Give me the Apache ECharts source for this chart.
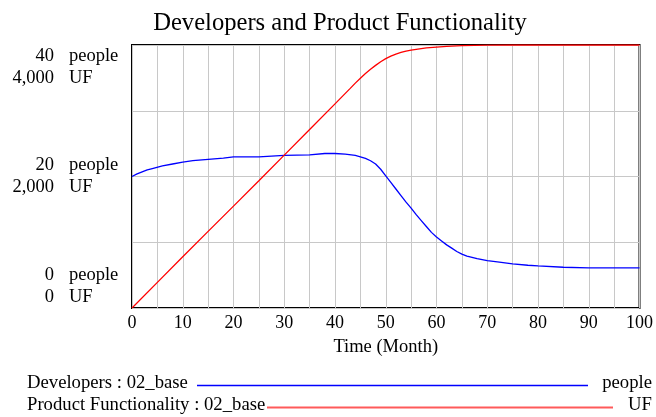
<!DOCTYPE html>
<html>
<head>
<meta charset="utf-8">
<script src="https://cdn.jsdelivr.net/npm/echarts@6/dist/echarts.min.js"></script>
<style>html,body{margin:0;padding:0;background:#fff;}#c{width:656px;height:417px;}</style>
</head>
<body>
<div id="c"></div>
<script>
var devMonths = [0, 1, 2, 3, 4, 6, 8, 10, 12, 15, 18, 20, 25, 30, 35, 38, 40, 42, 44, 45, 46, 47, 48, 49, 50, 51, 52, 53, 54, 55, 56, 57, 58, 59, 60, 61, 62, 63, 64, 65, 66, 68, 70, 72, 75, 78, 80, 85, 90, 100];
var developers = [20.0, 20.4, 20.7, 21.0, 21.2, 21.6, 21.9, 22.2, 22.4, 22.6, 22.8, 23.0, 23.0, 23.2, 23.3, 23.5, 23.5, 23.4, 23.2, 23.0, 22.75, 22.4, 21.9, 21.1, 20.1, 19.1, 18.1, 17.1, 16.1, 15.2, 14.2, 13.3, 12.4, 11.5, 10.8, 10.2, 9.6, 9.1, 8.6, 8.2, 7.9, 7.5, 7.2, 7.0, 6.7, 6.5, 6.4, 6.2, 6.1, 6.1];
var funcMonths = [0, 5, 10, 15, 20, 25, 30, 35, 40, 43, 44, 45, 46, 47, 48, 49, 50, 51, 52, 53, 54, 55, 56, 58, 60, 62, 65, 70, 75, 100];
var functionality = [0, 390, 780, 1165, 1550, 1935, 2325, 2715, 3105, 3340, 3420, 3495, 3565, 3630, 3690, 3745, 3792, 3830, 3862, 3886, 3906, 3922, 3935, 3955, 3968, 3978, 3990, 3997, 4000, 4000];
var peopleTicks = {0: '0', 20: '20', 40: '40'};
var ufTicks = {0: '0', 20: '2,000', 40: '4,000'};

var FONT = "'Liberation Serif', 'Times New Roman', serif";

function pairs(xs, ys) { return xs.map(function (x, i) { return [x, ys[i]]; }); }

var chart = echarts.init(document.getElementById('c'));
chart.setOption({
  animation: false,
  backgroundColor: '#fff',
  title: {
    text: 'Developers and Product Functionality',
    left: 335, top: 6, textAlign: 'center',
    textStyle: { fontFamily: FONT, fontSize: 24.6, fontWeight: 'normal', color: '#000' }
  },
  grid: {
    left: 132, right: 12, top: 45, bottom: 109,
    show: true, borderColor: '#000', borderWidth: 2, backgroundColor: '#fff'
  },
  xAxis: {
    type: 'value', min: 0, max: 100, interval: 5,
    name: 'Time (Month)', nameLocation: 'middle', nameGap: 30,
    nameTextStyle: { fontFamily: FONT, fontSize: 18.5, color: '#000' },
    axisLine: { show: false }, axisTick: { show: false },
    axisLabel: {
      fontFamily: FONT, fontSize: 18, color: '#000', margin: 6,
      formatter: function (v) { return v % 10 === 0 ? String(v) : ''; }
    },
    splitLine: { show: true, lineStyle: { color: '#c8c8c8', width: 1 } }
  },
  yAxis: [{
    type: 'value', min: 0, max: 40, interval: 10,
    axisLine: { show: false }, axisTick: { show: false },
    axisLabel: {
      fontFamily: FONT, fontSize: 18.5, color: '#000', margin: 78, align: 'right',
      lineHeight: 22,
      verticalAlignMinLabel: 'bottom', verticalAlignMaxLabel: 'top',
      formatter: function (v) {
        return (v in peopleTicks) ? peopleTicks[v] + '\n' + ufTicks[v] : '';
      }
    },
    splitLine: { show: true, lineStyle: { color: '#c8c8c8', width: 1 } }
  }, {
    type: 'value', min: 0, max: 4000, show: false, splitLine: { show: false }
  }, {
    type: 'value', min: 0, max: 40, interval: 10, position: 'left',
    axisLine: { show: false }, axisTick: { show: false }, splitLine: { show: false },
    axisLabel: {
      fontFamily: FONT, fontSize: 18.5, color: '#000', margin: 63, align: 'left',
      lineHeight: 22,
      verticalAlignMinLabel: 'bottom', verticalAlignMaxLabel: 'top',
      formatter: function (v) {
        return (v in peopleTicks) ? 'people\nUF' : '';
      }
    }
  }],
  series: [{
    name: 'Developers : 02_base', type: 'line', yAxisIndex: 0,
    data: pairs(devMonths, developers), showSymbol: false, smooth: false,
    lineStyle: { color: '#0000ff', width: 1.3 }, itemStyle: { color: '#0000ff' }
  }, {
    name: 'Product Functionality : 02_base', type: 'line', yAxisIndex: 1,
    data: pairs(funcMonths, functionality), showSymbol: false, smooth: false,
    lineStyle: { color: '#ff0000', width: 1.3 }, itemStyle: { color: '#ff0000' }
  }],
  graphic: [
    { type: 'text', left: 27, top: 374, style: { text: 'Developers : 02_base', font: '18.7px ' + FONT, fill: '#000' } },
    { type: 'line', shape: { x1: 197, y1: 385.5, x2: 588, y2: 385.5 }, style: { stroke: '#0000ff', lineWidth: 1.3 } },
    { type: 'text', right: 4, top: 374, style: { text: 'people', font: '18.7px ' + FONT, fill: '#000' } },
    { type: 'text', left: 27, top: 396, style: { text: 'Product Functionality : 02_base', font: '18.7px ' + FONT, fill: '#000' } },
    { type: 'line', shape: { x1: 267, y1: 407.5, x2: 613, y2: 407.5 }, style: { stroke: '#ff5a5a', lineWidth: 2 } },
    { type: 'text', right: 4, top: 396, style: { text: 'UF', font: '18.7px ' + FONT, fill: '#000' } }
  ]
});
</script>
</body>
</html>
